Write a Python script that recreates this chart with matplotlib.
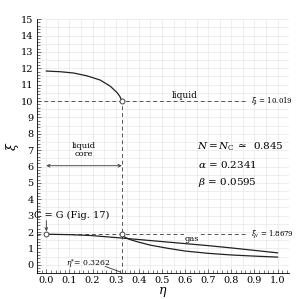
import numpy as np
import matplotlib
matplotlib.use("Agg")
import matplotlib.pyplot as plt
from matplotlib.ticker import MultipleLocator

plt.rcParams['font.family'] = ['DejaVu Serif']
plt.rcParams['mathtext.fontset'] = 'dejavuserif'

# critical values
eta_star = 0.3262
xi_l = 10.019
xi_v = 1.8679

# liquid branch (eta from 0 up to eta*)
liq_eta = [0.0, 0.06, 0.118, 0.175, 0.233, 0.276, 0.305, 0.318, 0.3262]
liq_xi = [11.83, 11.79, 11.71, 11.54, 11.28, 10.91, 10.53, 10.28, 10.019]

# line starting at C=G (eta = 0)
cg_eta = [0.0, 0.1, 0.19, 0.33, 0.45, 0.58, 0.7, 0.8, 0.9, 1.0]
cg_xi = [1.8679, 1.84, 1.79, 1.63, 1.48, 1.32, 1.17, 1.03, 0.88, 0.73]

# gas branch starting at eta*
gas_eta = [0.3262, 0.34, 0.36, 0.4, 0.45, 0.52, 0.6, 0.7, 0.8, 0.9, 1.0]
gas_xi = [1.8679, 1.68, 1.55, 1.38, 1.2, 1.02, 0.84, 0.70, 0.60, 0.53, 0.47]

fig = plt.figure(figsize=(2.99, 2.99), dpi=100)
ax = fig.add_axes([0.124, 0.087, 0.843, 0.849])
ax.set_xlim(-0.04, 1.05)
ax.set_ylim(-0.5, 15)

# light grid
for gx in np.arange(0.0, 1.051, 0.05):
    ax.axvline(gx, color='#ebebeb', lw=0.6, zorder=0)
for gy in np.arange(0.0, 15.01, 0.5):
    ax.axhline(gy, color='#ebebeb', lw=0.6, zorder=0)

ax.spines['top'].set_visible(False)
ax.spines['right'].set_visible(False)
ax.spines['left'].set_linewidth(0.6)
ax.spines['bottom'].set_linewidth(0.6)

ax.xaxis.set_major_locator(MultipleLocator(0.1))
ax.xaxis.set_minor_locator(MultipleLocator(0.02))
ax.yaxis.set_major_locator(MultipleLocator(1))
ax.yaxis.set_minor_locator(MultipleLocator(0.2))
ax.set_xticks(np.arange(0, 1.01, 0.1))
ax.set_xticklabels(['%.1f' % v for v in np.arange(0, 1.01, 0.1)])
ax.tick_params(which='both', direction='in', labelsize=7, width=0.5, colors='#444444')
ax.tick_params(which='major', length=3)
ax.tick_params(which='minor', length=2)
ax.tick_params(axis='both', labelcolor='black', pad=2.5)
ax.set_xlabel(r'$\eta$', fontsize=9, labelpad=0)
ax.set_ylabel(r'$\xi$', fontsize=9)
ax.yaxis.set_label_coords(-0.065, 0.5)

# dashed guide lines
ax.plot([-0.04, 0.86], [xi_l, xi_l], color='#555555', lw=0.7, dashes=(4, 3))
ax.plot([-0.04, 0.86], [xi_v, xi_v], color='#555555', lw=0.7, dashes=(4, 3))
ax.plot([eta_star, eta_star], [-0.5, xi_l], color='#555555', lw=0.7, dashes=(4, 3))

# curves
ax.plot(liq_eta, liq_xi, color='#222222', lw=0.9)
ax.plot(cg_eta, cg_xi, color='#222222', lw=0.9)
ax.plot(gas_eta, gas_xi, color='#222222', lw=0.9)

# markers
ax.plot([eta_star, eta_star, 0.0], [xi_l, xi_v, xi_v], 'o', ms=3.5,
        mfc='white', mec='#444444', mew=0.7, zorder=5)

# labels
ax.text(0.6, 10.35, 'liquid', fontsize=6.5, ha='center', va='center')
ax.text(0.63, 1.6, 'gas', fontsize=6, ha='center', va='center',
        bbox=dict(facecolor='white', edgecolor='none', pad=0.3))
ax.text(0.885, xi_l, r'$\xi_{\rm l}$ = 10.019', fontsize=5, ha='left', va='center')
ax.text(0.885, xi_v, r'$\xi_{\rm v}$ = 1.8679', fontsize=5, ha='left', va='center')
ax.text(0.163, 7.0, 'liquid\ncore', fontsize=6, ha='center', va='center', linespacing=1.0)
ax.annotate('', xy=(0.0, 6.05), xytext=(eta_star, 6.05),
            arrowprops=dict(arrowstyle='<->', lw=0.6, color='#333333',
                            shrinkA=0, shrinkB=0, mutation_scale=5))

ax.text(-0.055, 3.0, 'C = G (Fig. 17)', fontsize=7, ha='left', va='center')
ax.annotate('', xy=(0.0, 2.05), xytext=(0.0, 2.7),
            arrowprops=dict(arrowstyle='->', lw=0.6, color='#333333',
                            shrinkA=0, shrinkB=0, mutation_scale=5))

ax.text(0.18, 0.1, r'$\eta^{*}$= 0.3262', fontsize=5.5, ha='center', va='center')
ax.annotate('', xy=(0.322, -0.45), xytext=(0.255, -0.1),
            arrowprops=dict(arrowstyle='-', lw=0.6, color='#333333',
                            shrinkA=0, shrinkB=0))

ax.text(0.65, 7.2, r'$N = N_{\rm C}\,\simeq\,$ 0.845', fontsize=7.5, ha='left', va='center')
ax.text(0.655, 6.15, r'$\alpha$ = 0.2341', fontsize=7.5, ha='left', va='center')
ax.text(0.655, 5.0, r'$\beta$ = 0.0595', fontsize=7.5, ha='left', va='center')

fig.savefig('out.png', dpi=100)
